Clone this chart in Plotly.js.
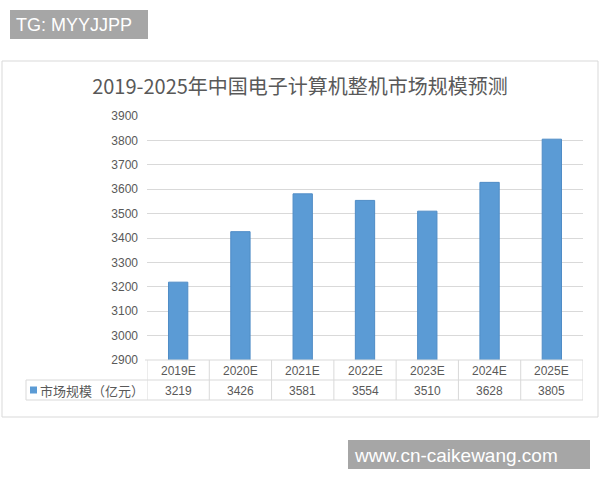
<!DOCTYPE html>
<html>
<head>
<meta charset="utf-8">
<script src="https://cdn.plot.ly/plotly-3.0.1.min.js"></script>
<style>html,body{margin:0;padding:0;background:#fff;}#chart{width:600px;height:480px;}</style>
</head>
<body>
<div id="chart"></div>
<script>
const categories = ["2019E", "2020E", "2021E", "2022E", "2023E", "2024E", "2025E"];
const marketSize = [3219, 3426, 3581, 3554, 3510, 3628, 3805];
const seriesName = "市场规模（亿元）";
const yTicks = [2900, 3000, 3100, 3200, 3300, 3400, 3500, 3600, 3700, 3800, 3900];
const titleText = "2019-2025年中国电子计算机整机市场规模预测";
const watermarkTop = "TG: MYYJJPP";
const watermarkBottom = "www.cn-caikewang.com";

const W = 600, H = 480;
const L = 147, R = 583, T = 116, B = 360;
const pw = R - L, ph = B - T;
const px = x => (x - L) / pw;
const py = y => (B - y) / ph;

const grey = "#595959";
const lineGrey = "#d9d9d9";
const cjk = "'Noto Sans CJK SC', 'Noto Sans', sans-serif";
const num = "'Liberation Sans', Arial, sans-serif";

const shapes = [];
const annotations = [];

// outer chart frame
shapes.push({type: "rect", xref: "paper", yref: "paper", x0: px(2), x1: px(598), y0: py(61), y1: py(417),
  line: {color: "#d9d9d9", width: 1}, fillcolor: "rgba(0,0,0,0)", layer: "below"});

// data table lines
shapes.push({type: "line", xref: "paper", yref: "paper", x0: px(145), x1: px(583), y0: py(360), y1: py(360), line: {color: lineGrey, width: 1}});
[380, 400].forEach(y => shapes.push({type: "line", xref: "paper", yref: "paper", x0: px(26), x1: px(583), y0: py(y), y1: py(y), line: {color: lineGrey, width: 1}}));
shapes.push({type: "line", xref: "paper", yref: "paper", x0: px(26), x1: px(26), y0: py(380), y1: py(400), line: {color: lineGrey, width: 1}});
for (let i = 0; i <= categories.length; i++) {
  shapes.push({type: "line", xref: "x", yref: "paper", x0: i - 0.5, x1: i - 0.5, y0: py(360), y1: py(400), line: {color: lineGrey, width: 1}});
}
// legend key square
shapes.push({type: "rect", xref: "paper", yref: "paper", x0: px(30), x1: px(37), y0: py(386.5), y1: py(393.5),
  fillcolor: "#5B9BD5", line: {width: 0}});

categories.forEach((c, i) => {
  annotations.push({x: c, xref: "x", y: py(370.5), yref: "paper", text: c, showarrow: false,
    font: {family: num, size: 12, color: grey}, xanchor: "center", yanchor: "middle"});
  annotations.push({x: c, xref: "x", y: py(390.5), yref: "paper", text: String(marketSize[i]), showarrow: false,
    font: {family: num, size: 12, color: grey}, xanchor: "center", yanchor: "middle"});
});
annotations.push({x: px(38), xref: "paper", y: py(390), yref: "paper", text: seriesName, showarrow: false,
  font: {family: cjk, size: 13, color: grey}, xanchor: "left", yanchor: "middle"});

// watermarks
shapes.push({type: "rect", xref: "paper", yref: "paper", x0: px(10), x1: px(148), y0: py(10), y1: py(39), fillcolor: "#a6a6a6", line: {width: 0}});
annotations.push({x: px(14), xref: "paper", y: py(25), yref: "paper", text: watermarkTop, showarrow: false,
  font: {family: num, size: 18, color: "#ffffff"}, xanchor: "left", yanchor: "middle"});
shapes.push({type: "rect", xref: "paper", yref: "paper", x0: px(348), x1: px(590), y0: py(440), y1: py(469), fillcolor: "#a6a6a6", line: {width: 0}});
annotations.push({x: px(352), xref: "paper", y: py(455), yref: "paper", text: watermarkBottom, showarrow: false,
  font: {family: num, size: 19, color: "#ffffff"}, xanchor: "left", yanchor: "middle"});

const trace = {
  type: "bar",
  x: categories,
  y: marketSize,
  base: 0,
  name: seriesName,
  marker: {color: "#5B9BD5", line: {color: "#4F8CC6", width: 1}},
  hoverinfo: "x+y"
};

const layout = {
  width: W, height: H,
  margin: {l: L, r: W - R, t: T, b: H - B, pad: 0},
  paper_bgcolor: "#ffffff",
  plot_bgcolor: "#ffffff",
  showlegend: false,
  bargap: 0.69,
  title: {text: titleText, font: {family: cjk, size: 20, color: grey}, x: 0.5, xref: "container", xanchor: "center",
    y: 1 - 87 / H, yref: "container", yanchor: "middle"},
  xaxis: {type: "category", range: [-0.5, categories.length - 0.5], showticklabels: false, showgrid: false,
    zeroline: false, showline: false, ticks: "", fixedrange: true},
  yaxis: {range: [2900, 3900], tickvals: yTicks, ticktext: yTicks.map(String), showgrid: true, gridcolor: lineGrey, gridwidth: 1,
    zeroline: false, showline: false, ticks: "", ticklabelstandoff: 8,
    tickfont: {family: num, size: 12, color: grey}, fixedrange: true},
  shapes: shapes,
  annotations: annotations
};

Plotly.newPlot("chart", [trace], layout, {displayModeBar: false, staticPlot: true});
</script>
</body>
</html>
